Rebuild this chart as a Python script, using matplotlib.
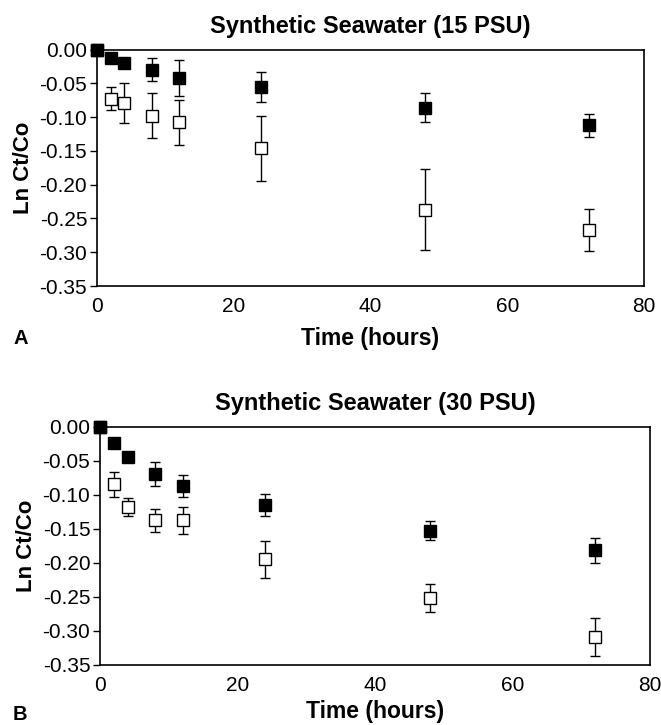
import matplotlib
matplotlib.use("Agg")
import matplotlib.pyplot as plt

plt.rcParams['font.family'] = ['Liberation Sans', 'DejaVu Sans']

# sampling times (hours)
time_h = [0, 2, 4, 8, 12, 24, 48, 72]

# panel A - 15 PSU
a_filled = [0.0, -0.013, -0.020, -0.030, -0.042, -0.056, -0.086, -0.112]
a_filled_err = [0.0, 0.003, 0.004, 0.017, 0.027, 0.022, 0.021, 0.017]
a_open = [0.0, -0.073, -0.079, -0.098, -0.108, -0.146, -0.237, -0.267]
a_open_err = [0.0, 0.017, 0.030, 0.033, 0.034, 0.048, 0.060, 0.031]

# panel B - 30 PSU
b_filled = [0.0, -0.024, -0.045, -0.070, -0.087, -0.115, -0.153, -0.182]
b_filled_err = [0.0, 0.006, 0.007, 0.018, 0.016, 0.016, 0.014, 0.018]
b_open = [0.0, -0.085, -0.118, -0.138, -0.138, -0.195, -0.252, -0.309]
b_open_err = [0.0, 0.018, 0.013, 0.017, 0.020, 0.027, 0.020, 0.028]

yticks = [0.0, -0.05, -0.10, -0.15, -0.20, -0.25, -0.30, -0.35]
xticks = [0, 20, 40, 60, 80]

fig = plt.figure(figsize=(6.61, 7.25), dpi=100)
ax_a = fig.add_axes([0.1467, 0.6055, 0.8275, 0.3262])
ax_b = fig.add_axes([0.1513, 0.0833, 0.832, 0.3283])


def draw_panel(ax, title, filled, filled_err, opn, opn_err, xpad):
    ax.errorbar(time_h, opn, yerr=opn_err, fmt='s', mfc='white', mec='black',
                ms=8, mew=1, ecolor='black', elinewidth=1, capsize=3.5,
                capthick=1, clip_on=False, zorder=3)
    ax.errorbar(time_h, filled, yerr=filled_err, fmt='s', mfc='black', mec='black',
                ms=8.5, mew=1, ecolor='black', elinewidth=1, capsize=3.5,
                capthick=1, clip_on=False, zorder=4)
    ax.set_xlim(0, 80)
    ax.set_ylim(-0.35, 0)
    ax.set_xticks(xticks)
    ax.set_yticks(yticks)
    ax.set_yticklabels(['%.2f' % v for v in yticks])
    ax.tick_params(axis='x', length=0, pad=8, labelsize=15)
    ax.tick_params(axis='y', length=5, width=1, direction='out', pad=2, labelsize=15)
    for s in ax.spines.values():
        s.set_linewidth(1.2)
    ax.set_title(title, fontsize=17, fontweight='bold', pad=12)
    ax.set_xlabel('Time (hours)', fontsize=16.5, fontweight='bold', labelpad=xpad)
    ax.set_ylabel('Ln Ct/Co', fontsize=16, fontweight='bold', labelpad=4)


draw_panel(ax_a, 'Synthetic Seawater (15 PSU)', a_filled, a_filled_err, a_open, a_open_err, 8)
draw_panel(ax_b, 'Synthetic Seawater (30 PSU)', b_filled, b_filled_err, b_open, b_open_err, 4)

fig.text(13 / 661, 1 - 339 / 725, 'A', fontsize=14.5, fontweight='bold', va='center')
fig.text(13 / 661, 1 - 714 / 725, 'B', fontsize=14.5, fontweight='bold', va='center')

fig.savefig('out.png', dpi=100)
